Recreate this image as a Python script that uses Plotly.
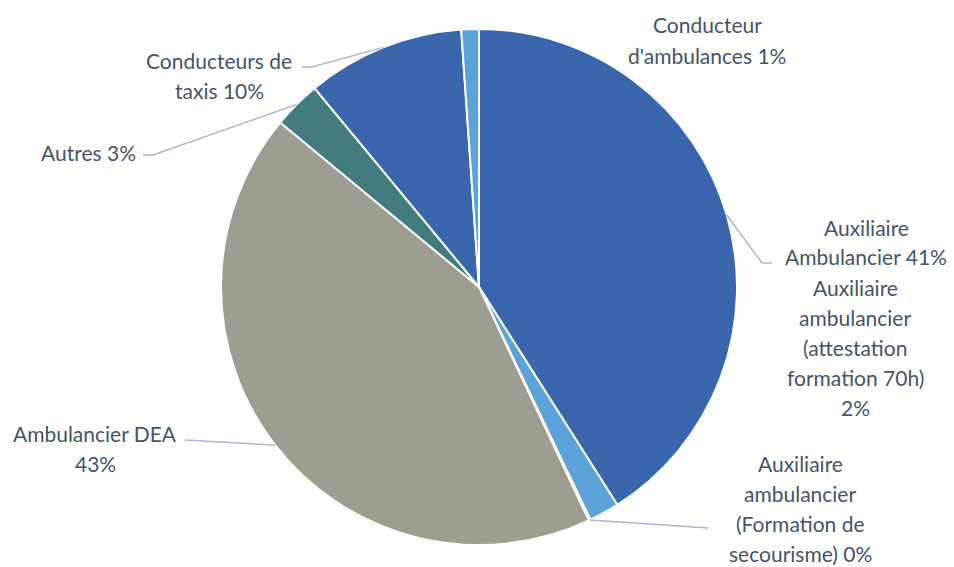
import math
import plotly.graph_objects as go

# slices, clockwise from 12 o'clock
labels = [
    "Auxiliaire Ambulancier",
    "Auxiliaire ambulancier (attestation formation 70h)",
    "Auxiliaire ambulancier (Formation de secourisme)",
    "Ambulancier DEA",
    "Autres",
    "Conducteurs de taxis",
    "Conducteur d'ambulances",
]
values = [41.0, 1.9, 0.1, 43.0, 3.0, 9.9, 1.1]
pct_text = ["41%", "2%", "0%", "43%", "3%", "10%", "1%"]
colors = ["#3A66AD", "#5BA3D9", "#5BA3D9", "#9D9E91", "#427C7E", "#3A66AD", "#5BA3D9"]

label_lines = [
    ["Auxiliaire", "Ambulancier 41%"],
    ["Auxiliaire", "ambulancier", "(attestation", "formation 70h)", "2%"],
    ["Auxiliaire", "ambulancier", "(Formation de", "secourisme) 0%"],
    ["Ambulancier DEA", "43%"],
    ["Autres 3%"],
    ["Conducteurs de", "taxis 10%"],
    ["Conducteur", "d'ambulances 1%"],
]

W, H = 954, 567
CX, CY, R = 479, 287, 258
LINE_H = 30

# label centres (px) and leader-line bends (px, None = no line)
label_pos = [(866, 242), (855, 347), (800, 508), (95, 448), (88, 153), (219, 75), (707, 40)]
leaders = [
    [(762, 263), (772, 263)],
    None,
    [(708, 528)],
    [(185, 440)],
    [(153, 155), (143, 155)],
    [(312, 67), (302, 67)],
    None,
]


def px(x, y):
    return x / W, 1 - y / H


fig = go.Figure()
fig.add_trace(go.Pie(
    labels=labels,
    values=values,
    sort=False,
    direction="clockwise",
    rotation=0,
    textinfo="none",
    hoverinfo="label+percent",
    marker=dict(colors=colors, line=dict(color="white", width=2)),
    domain=dict(x=[(CX - R) / W, (CX + R) / W], y=[1 - (CY + R) / H, 1 - (CY - R) / H]),
    showlegend=False,
))

total = sum(values)
cum = 0
shapes = []
annotations = []
for i, v in enumerate(values):
    mid = (cum + v / 2) / total * 2 * math.pi
    cum += v
    sx = CX + R * math.sin(mid)
    sy = CY - R * math.cos(mid)
    if leaders[i]:
        pts = [(sx, sy)] + leaders[i]
        path = "M " + " L ".join("%.4f,%.4f" % px(x, y) for x, y in pts)
        shapes.append(dict(type="path", path=path, xref="paper", yref="paper",
                           line=dict(color="#A9B9CD", width=1.5)))
    cx, cy = label_pos[i]
    n = len(label_lines[i])
    for j, line in enumerate(label_lines[i]):
        lx, ly = px(cx, cy + (j - (n - 1) / 2) * LINE_H)
        annotations.append(dict(
            x=lx, y=ly, xref="paper", yref="paper", text=line,
            showarrow=False, xanchor="center", yanchor="middle",
            font=dict(size=21, color="#44546A", family="Lato"),
        ))

fig.update_layout(
    width=W, height=H,
    margin=dict(l=0, r=0, t=0, b=0),
    paper_bgcolor="white",
    plot_bgcolor="white",
    shapes=shapes,
    annotations=annotations,
)

fig.write_html("out.html", config={"displayModeBar": False},
               post_script="document.body.style.margin='0px';")
